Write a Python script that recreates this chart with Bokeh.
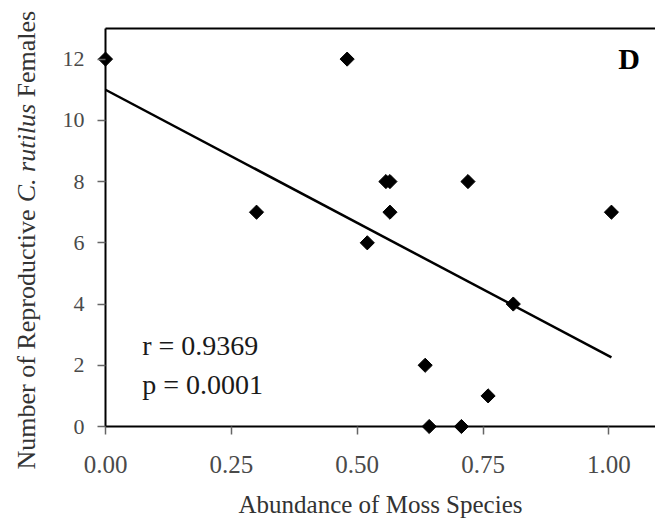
import math
from bokeh.plotting import figure
from bokeh.models import Range1d, FixedTicker, LinearAxis, NumeralTickFormatter
from bokeh.core.properties import value
from bokeh.embed import file_html
from bokeh.resources import INLINE

# ---- data ----
moss_abundance = [0.00, 0.48, 0.30, 0.557, 0.565, 0.72, 0.565, 1.005, 0.52, 0.81, 0.635, 0.76, 0.643, 0.707]
reproductive_females = [12, 12, 7, 8, 8, 8, 7, 7, 6, 4, 2, 1, 0, 0]
fit_x = [0.0, 1.005]
fit_y = [11.0, 2.26]
x_ticks = [0.0, 0.25, 0.5, 0.75, 1.0]
x_tick_labels = ["0.00", "0.25", "0.50", "0.75", "1.00"]
y_ticks = [0, 2, 4, 6, 8, 10, 12]
stats_lines = ["r = 0.9369", "p = 0.0001"]
panel_letter = "D"
x_title = "Abundance of Moss Species"
y_title_parts = ["Number of Reproductive", "C. rutilus", "Females"]

# ---- layout (pixels) ----
W, H = 655, 523
LEFT, TOP, BOTTOM = 105, 28, 97       # plot box edges inside the canvas
X_MAX, Y_MAX = 1.0925, 13             # data values at the right / top edge of the box
FONT = "Liberation Serif"

x_scale = (W - LEFT) / X_MAX
y_scale = (H - TOP - BOTTOM) / Y_MAX


def px2x(sx):
    return (sx - LEFT) / x_scale


def py2y(sy):
    return (H - BOTTOM - sy) / y_scale


p = figure(width=W, height=H, output_backend="svg", toolbar_location=None,
           x_range=Range1d(px2x(0), px2x(W)), y_range=Range1d(py2y(H), py2y(0)),
           x_axis_type=None, y_axis_type=None,
           min_border_left=0, min_border_right=0, min_border_top=0, min_border_bottom=0)
p.outline_line_color = None
p.grid.visible = False
p.background_fill_color = "white"
p.border_fill_color = "white"


def style_axis(ax, font_size, standoff):
    ax.axis_line_color = "black"
    ax.axis_line_width = 2
    ax.major_tick_line_color = "#666666"
    ax.major_tick_line_width = 1.5
    ax.major_tick_in = 0
    ax.major_tick_out = 8
    ax.minor_tick_line_color = None
    ax.major_label_text_font = FONT
    ax.major_label_text_font_size = font_size
    ax.major_label_text_color = "#4a4a4a"
    ax.major_label_standoff = standoff


xa = LinearAxis(fixed_location=0, bounds=(0, X_MAX), ticker=FixedTicker(ticks=x_ticks),
                formatter=NumeralTickFormatter(format="0.00"), axis_label=x_title)
xa.major_label_overrides = {t: l for t, l in zip(x_ticks, x_tick_labels)}
style_axis(xa, "25px", 21)
xa.axis_label_text_font = FONT
xa.axis_label_text_font_size = "25px"
xa.axis_label_text_font_style = "normal"
xa.axis_label_text_color = "#333333"
xa.axis_label_standoff = 15
p.add_layout(xa, "below")

ya = LinearAxis(fixed_location=0, bounds=(0, Y_MAX), ticker=FixedTicker(ticks=y_ticks))
style_axis(ya, "22px", 13)
p.add_layout(ya, "left")

top_axis = LinearAxis(fixed_location=Y_MAX, bounds=(0, X_MAX), ticker=FixedTicker(ticks=[]),
                      axis_line_color="black", axis_line_width=2,
                      major_tick_line_color=None, minor_tick_line_color=None)
p.add_layout(top_axis, "above")

p.line(fit_x, fit_y, line_color="black", line_width=2.5)
p.scatter(moss_abundance, reproductive_females, marker="square", angle=math.pi / 4,
          size=10, color="black")

# statistics text
p.text(x=[px2x(141.7)] * len(stats_lines),
       y=[py2y(345.0 + 39.4 * i) for i in range(len(stats_lines))],
       text=stats_lines, text_font=value(FONT), text_font_size="28px",
       text_color="#1a1a1a", text_baseline="alphabetic", text_align="left")

# panel letter
p.text(x=[px2x(617.7)], y=[py2y(57.5)], text=[panel_letter], text_font=value(FONT),
       text_font_size="30px", text_font_style="bold", text_color="black",
       text_baseline="alphabetic", text_align="left")

# y-axis title: three rotated pieces (species name in italics)
fs = 26
em = [10.0, 3.75, 3.02]
styles = ["normal", "italic", "normal"]
sy = 469.0
for part, w, st in zip(y_title_parts, em, styles):
    p.text(x=[px2x(26)], y=[py2y(sy)], text=[part], angle=math.pi / 2,
           text_font=value(FONT), text_font_size=f"{fs}px", text_font_style=st,
           text_color="#333333", text_baseline="alphabetic", text_align="left")
    sy -= w * fs + 0.28 * fs

open("out.html", "w").write(file_html(p, INLINE))
